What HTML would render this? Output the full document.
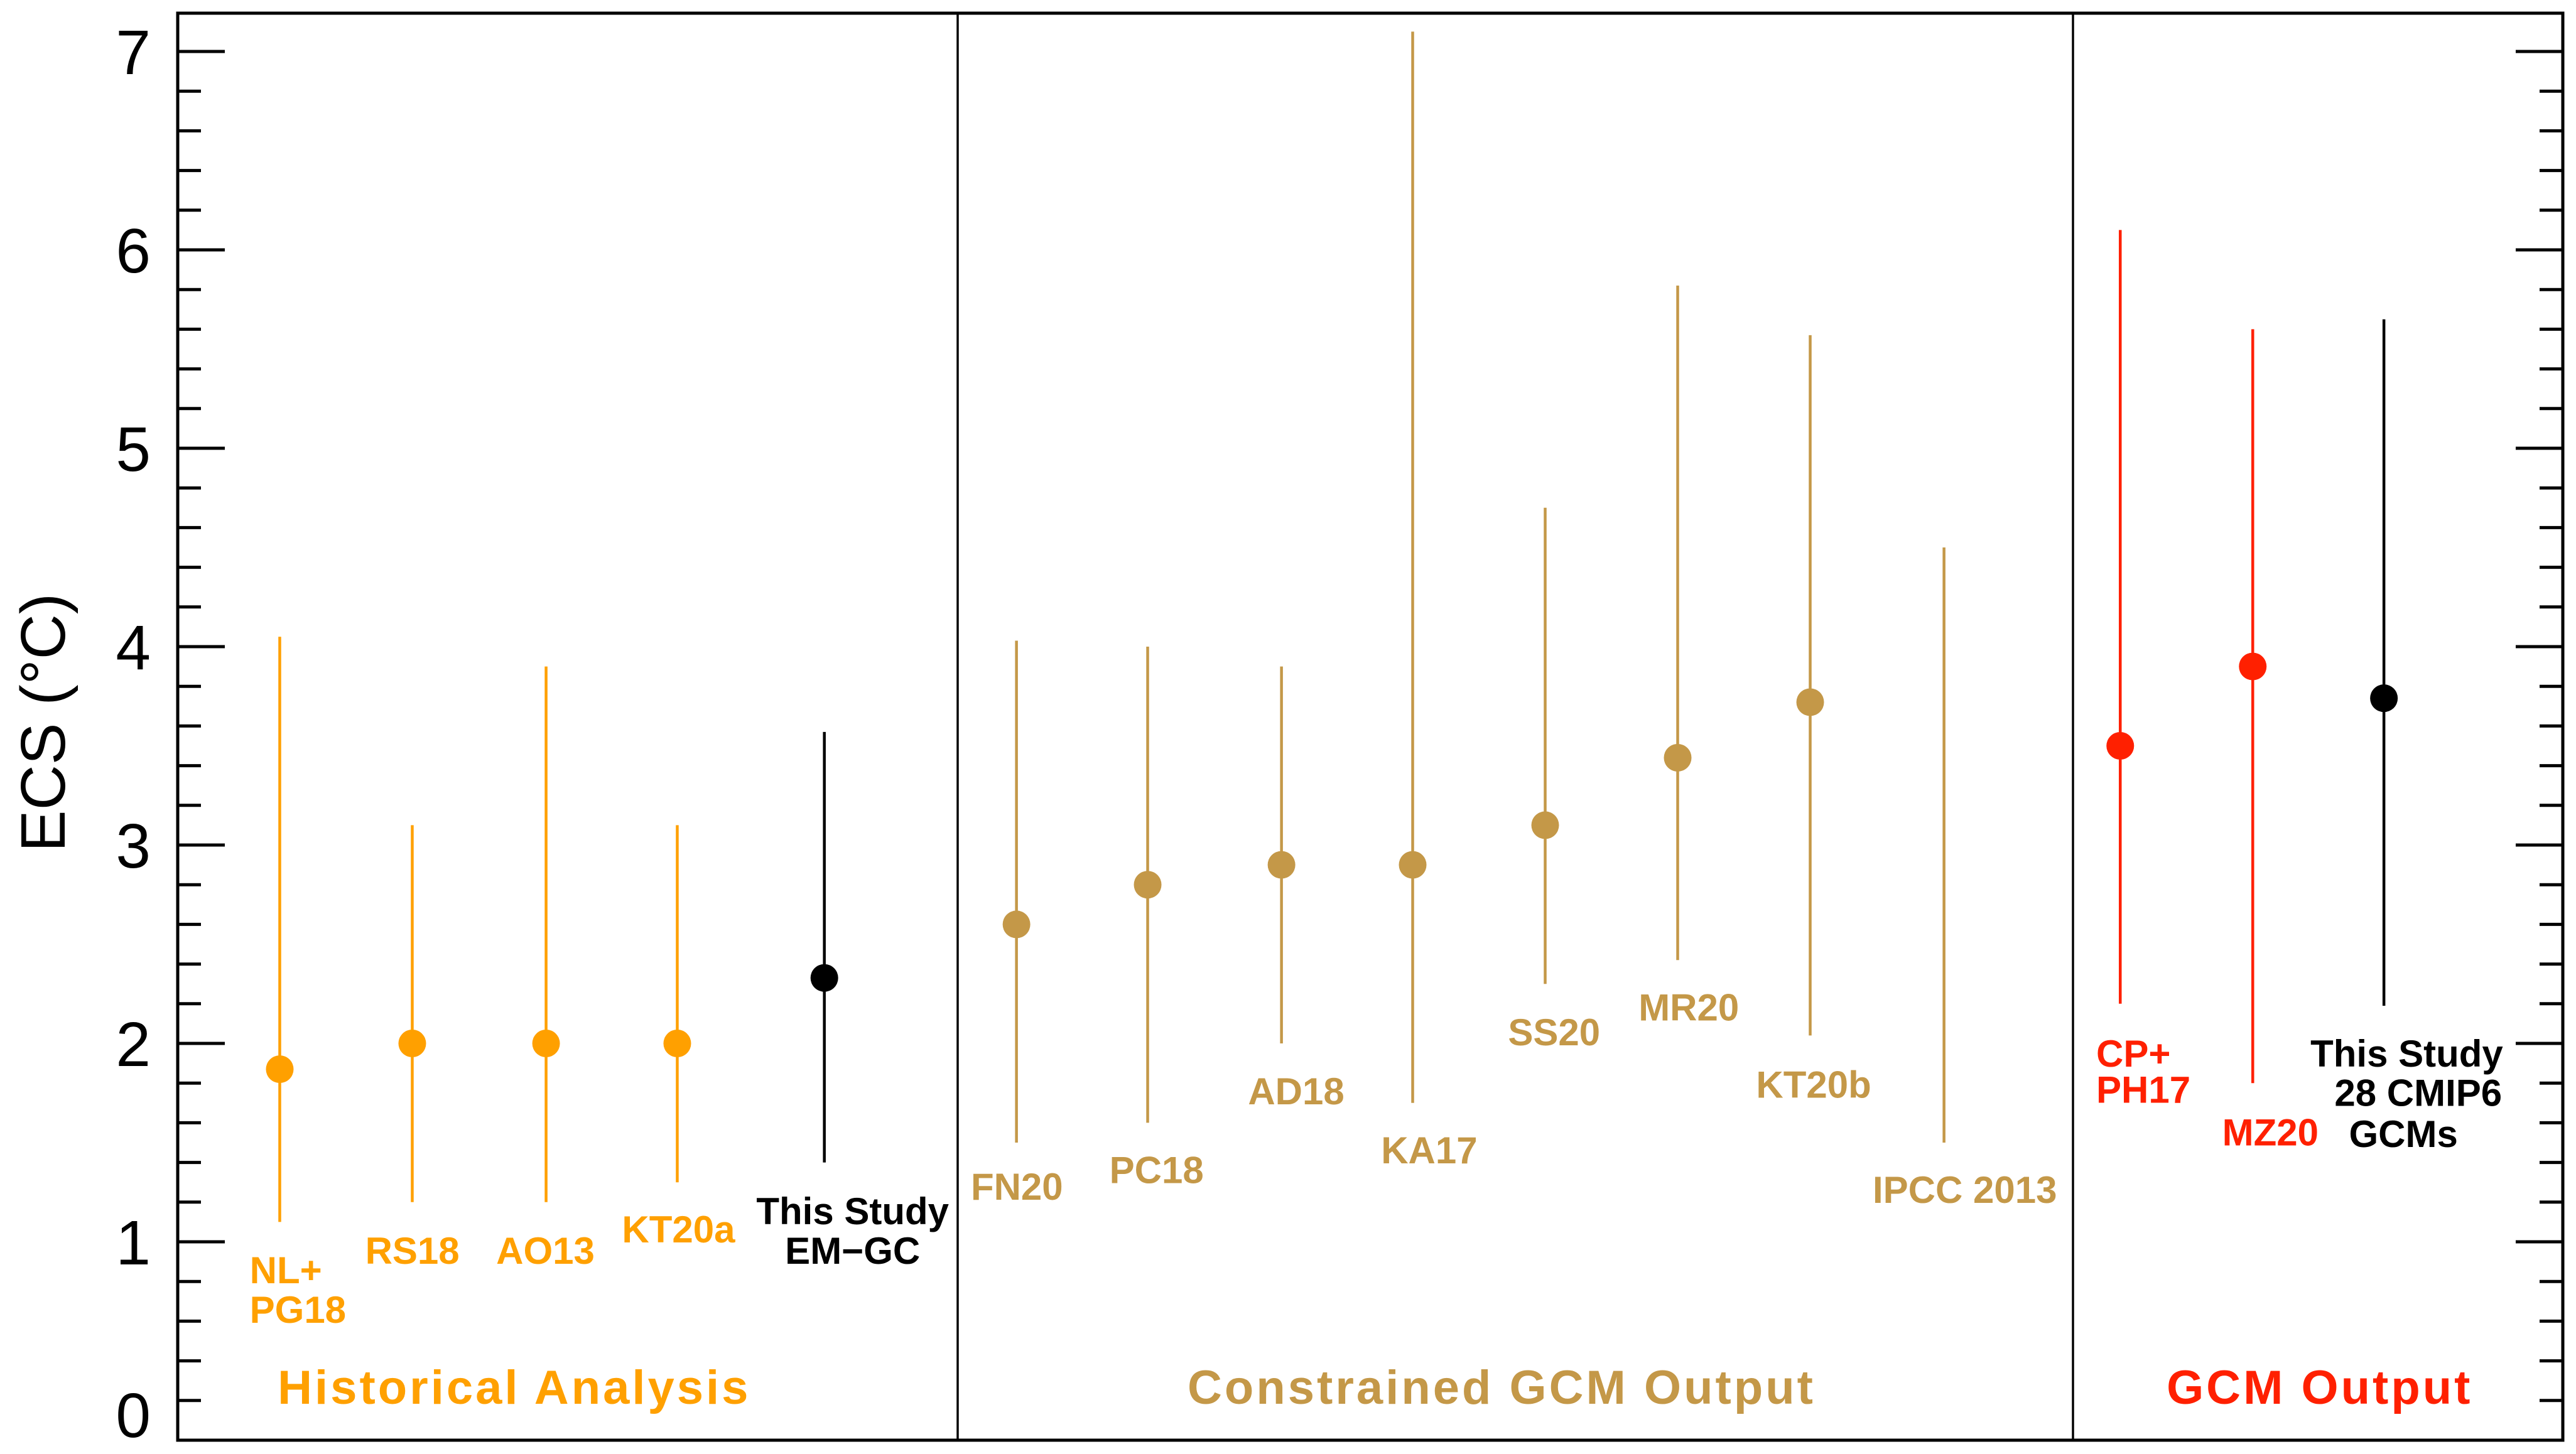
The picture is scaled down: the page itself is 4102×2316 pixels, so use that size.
<!DOCTYPE html>
<html><head><meta charset="utf-8"><style>
html,body{margin:0;padding:0;background:#fff;}
svg{display:block;font-family:"Liberation Sans",sans-serif;}
</style></head><body>
<svg id="chart" width="4102" height="2316" viewBox="0 0 4102 2316" xmlns="http://www.w3.org/2000/svg">
<rect x="0" y="0" width="4102" height="2316" fill="#fff"/>
<g id="marks"></g>
<g id="labels"></g>
<g id="axes"></g>
</svg>
<script>
const studies = ["NL+PG18","RS18","AO13","KT20a","EM-GC","FN20","PC18","AD18","KA17","SS20","MR20","KT20b","IPCC 2013","CP+PH17","MZ20","CMIP6"];
const xPos = [0.77,1.77,2.78,3.77,4.88,6.33,7.32,8.33,9.32,10.32,11.32,12.32,13.33,14.66,15.66,16.65];
const bestEst = [1.87,2.0,2.0,2.0,2.33,2.6,2.8,2.9,2.9,3.1,3.44,3.72,null,3.5,3.9,3.74];
const lowVals = [1.1,1.2,1.2,1.3,1.4,1.5,1.6,2.0,1.7,2.3,2.42,2.04,1.5,2.2,1.8,2.19];
const highVals = [4.05,3.1,3.9,3.1,3.57,4.03,4.0,3.9,7.1,4.7,5.82,5.57,4.5,6.1,5.6,5.65];
const groups = ["hist","hist","hist","hist","this","con","con","con","con","con","con","con","con","gcm","gcm","this"];
const yTicks = [0,1,2,3,4,5,6,7];

const colors = {hist:"#FFA000", con:"#C49848", gcm:"#FF2000", this:"#000"};
const L=283,R=4081,T=21,B=2294;
const X = u => L + u*(R-L)/18;
const Y = v => B - v*316;
const NS="http://www.w3.org/2000/svg";
function mk(tag, attrs, parent){const e=document.createElementNS(NS,tag);for(const k in attrs)e.setAttribute(k,attrs[k]);parent.appendChild(e);return e;}
const marks=document.getElementById('marks'), axes=document.getElementById('axes'), labels=document.getElementById('labels');

for(let i=0;i<studies.length;i++){
  const c=colors[groups[i]];
  const ln=mk('line',{x1:X(xPos[i]),x2:X(xPos[i]),y1:Y(lowVals[i]),y2:Y(highVals[i]),stroke:c,'stroke-width':4.5},marks);
  
  
  if(bestEst[i]!==null){
    const d=mk('circle',{cx:X(xPos[i]),cy:Y(bestEst[i]),r:22,fill:c},marks);
    
    
  }
}

const fr=mk('rect',{x:L,y:T,width:R-L,height:B-T,fill:'none',stroke:'#000','stroke-width':5},axes);


[1525,3301].forEach((x,k)=>{
  const d=mk('line',{x1:x,x2:x,y1:T,y2:B,stroke:'#000','stroke-width':3.5},axes);
  
  
});
for(let v=0;v<=35;v++){
  const val=v*0.2, y=Y(val), major=(v%5===0), len=major?75:37;
  if(y<T+2) continue;
  mk('line',{x1:L,x2:L+len,y1:y,y2:y,stroke:'#000','stroke-width':5},axes);
  mk('line',{x1:R-len,x2:R,y1:y,y2:y,stroke:'#000','stroke-width':5},axes);
}
yTicks.forEach(t=>{
  const yy = t===0 ? Y(t)-5 : Y(t)+36;
  const tx=mk('text',{x:240,y:yy,'text-anchor':'end','font-size':100,'font-weight':500},axes);
  tx.textContent=t;
  
  
});
const yt=mk('text',{x:0,y:0,'text-anchor':'middle','font-size':100,'font-weight':500,transform:'translate(103,1151) rotate(-90)'},axes);
yt.textContent='ECS (°C)';



const s=2.616;
const lab=[
 ["NL+",152,773,"hist","start"],["PG18",152,797,"hist","start"],
 ["RS18",251,761,"hist","middle"],["AO13",332,761,"hist","middle"],["KT20a",413,748,"hist","middle"],
 ["This Study",519,737,"this","middle"],["EM−GC",519,761,"this","middle"],
 ["FN20",619,722,"con","middle"],["PC18",704,712,"con","middle"],["AD18",789,664,"con","middle"],
 ["KA17",870,700,"con","middle"],["SS20",946,628,"con","middle"],["MR20",1028,613,"con","middle"],
 ["KT20b",1104,660,"con","middle"],["IPCC 2013",1196,724,"con","middle"],
 ["CP+",1276,641,"gcm","start"],["PH17",1276,663,"gcm","start"],["MZ20",1382,689,"gcm","middle"],
 ["This Study",1465,641,"this","middle"],["28 CMIP6",1472,665,"this","middle"],["GCMs",1463,690,"this","middle"]
];
lab.forEach(a=>{
  const t=mk('text',{x:a[1]*s,y:a[2]*s+22,'text-anchor':a[4],'font-size':60,'font-weight':'bold',fill:colors[a[3]]},labels);
  t.textContent=a[0];
  
  
});
const heads=[["Historical Analysis",313,"hist"],["Constrained GCM Output",914,"con"],["GCM Output",1412,"gcm"]];
heads.forEach(h=>{
  const t=mk('text',{x:h[1]*s,y:844*s+28,'text-anchor':'middle','font-size':76,'font-weight':'bold',fill:colors[h[2]],'letter-spacing':4},labels);
  t.textContent=h[0];
  
  
});
</script>
</body></html>
